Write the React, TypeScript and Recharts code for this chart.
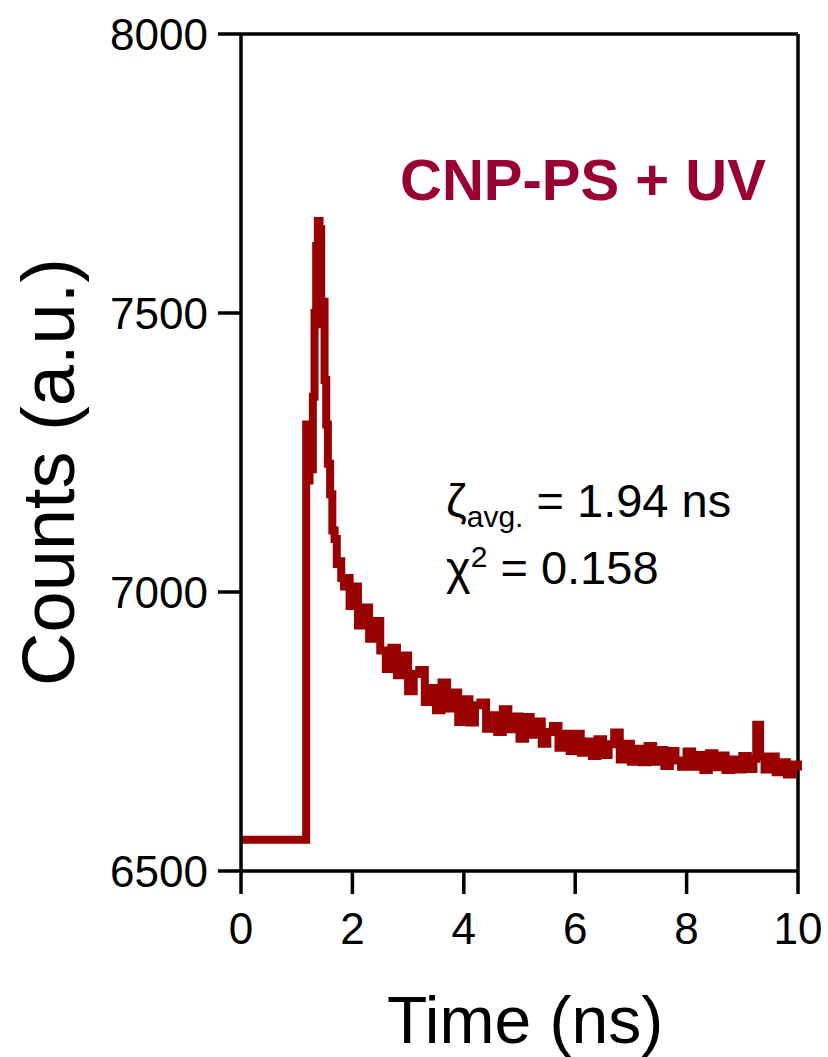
import React from 'react';
import {
  LineChart,
  Line,
  XAxis,
  YAxis,
  ReferenceLine,
  Customized
} from 'recharts';

const TIME = [
  0, 1.16, 1.17, 1.2, 1.23, 1.26, 1.29, 1.32, 1.35, 1.38, 1.41, 1.44, 1.47, 1.5, 1.53, 1.56,
  1.6, 1.64, 1.68, 1.72, 1.76, 1.8, 1.85, 1.9, 1.95, 2.0, 2.1, 2.2, 2.3, 2.4, 2.5, 2.6,
  2.7, 2.8, 2.9, 3.0, 3.1, 3.2, 3.3, 3.4, 3.5, 3.6, 3.7, 3.8, 3.9, 4.0, 4.1, 4.2,
  4.3, 4.4, 4.5, 4.6, 4.7, 4.8, 4.9, 5.0, 5.1, 5.2, 5.3, 5.4, 5.5, 5.6, 5.7, 5.8,
  5.9, 6.0, 6.1, 6.2, 6.3, 6.4, 6.5, 6.6, 6.7, 6.8, 6.9, 7.0, 7.1, 7.2, 7.3, 7.4,
  7.5, 7.6, 7.7, 7.8, 7.9, 8.0, 8.1, 8.2, 8.3, 8.4, 8.5, 8.6, 8.7, 8.8, 8.9, 9.0,
  9.1, 9.2, 9.25, 9.32, 9.4, 9.5, 9.6, 9.7, 9.8, 9.9, 10.0
];

const COUNTS = [
  6556, 6556, 7300, 7200, 7290, 7220, 7350, 7500, 7620, 7665, 7650, 7480, 7520, 7380, 7300, 7230,
  7175, 7110, 7095, 7050, 7055, 7025, 7010, 7025, 6975, 7010, 6940, 6972, 6916, 6948, 6895, 6862,
  6900, 6851, 6886, 6822, 6853, 6860, 6803, 6828, 6788, 6838, 6791, 6820, 6767, 6808, 6766, 6797,
  6802, 6755, 6779, 6749, 6790, 6754, 6777, 6737, 6776, 6744, 6768, 6728, 6749, 6760, 6721, 6746,
  6715, 6746, 6712, 6732, 6706, 6736, 6708, 6727, 6748, 6700, 6728, 6696, 6719, 6695, 6724, 6696,
  6717, 6688, 6715, 6698, 6687, 6714, 6687, 6708, 6681, 6711, 6686, 6707, 6681, 6700, 6682, 6706,
  6683, 6701, 6762, 6705, 6682, 6705, 6677, 6695, 6673, 6691, 6680
];

const X_TICKS = [0, 2, 4, 6, 8, 10];
const Y_TICKS = [6500, 7000, 7500, 8000];

const FONT = '"Liberation Sans", Arial, sans-serif';
const LINE_COLOR = '#990000';
const TITLE_COLOR = '#990033';

const data = TIME.map((t, i) => ({ t, counts: COUNTS[i] }));

const Annotations = () => (
  <g fontFamily={FONT}>
    <text x={583} y={200} textAnchor="middle" fontSize={58} fontWeight="bold" fill={TITLE_COLOR}>
      CNP-PS + UV
    </text>
    <text x={446} y={517} fontSize={47} fill="#000">
      ζ
      <tspan fontSize={30} dy={10}>avg.</tspan>
      <tspan fontSize={47} dy={-10}> = 1.94 ns</tspan>
    </text>
    <text x={446} y={584} fontSize={47} fill="#000">
      χ
      <tspan fontSize={30} dy={-17}>2</tspan>
      <tspan fontSize={47} dy={17}> = 0.158</tspan>
    </text>
    <text
      transform="translate(74,472) rotate(-90)"
      textAnchor="middle"
      fontSize={74}
      fill="#000"
    >
      Counts (a.u.)
    </text>
    <text x={525} y={1043} textAnchor="middle" fontSize={66} fill="#000">
      Time (ns)
    </text>
  </g>
);

const App: React.FC = () => {
  return (
    <div style={{ position: 'absolute', left: 0, top: 0, background: '#fff' }}>
      <LineChart
        width={828}
        height={1057}
        data={data}
        margin={{ top: 34, right: 30, bottom: 0, left: 0 }}
      >
        <XAxis
          dataKey="t"
          type="number"
          domain={[0, 10]}
          ticks={X_TICKS}
          interval={0}
          height={186}
          tickSize={23}
          tickMargin={19}
          axisLine={{ stroke: '#000', strokeWidth: 3.5 }}
          tickLine={{ stroke: '#000', strokeWidth: 3.5 }}
          tick={{ fill: '#000', fontSize: 44, fontFamily: FONT }}
        />
        <YAxis
          type="number"
          domain={[6500, 8000]}
          ticks={Y_TICKS}
          interval={0}
          width={241}
          tickSize={23}
          tickMargin={10}
          axisLine={{ stroke: '#000', strokeWidth: 3.5 }}
          tickLine={{ stroke: '#000', strokeWidth: 3.5 }}
          tick={{ fill: '#000', fontSize: 44, fontFamily: FONT }}
        />
        <ReferenceLine y={8000} stroke="#000" strokeWidth={3.5} />
        <ReferenceLine x={10} stroke="#000" strokeWidth={3.5} />
        <Line
          type="stepAfter"
          dataKey="counts"
          stroke={LINE_COLOR}
          strokeWidth={8}
          dot={false}
          isAnimationActive={false}
        />
        <Customized component={Annotations} />
      </LineChart>
    </div>
  );
};

export default App;
